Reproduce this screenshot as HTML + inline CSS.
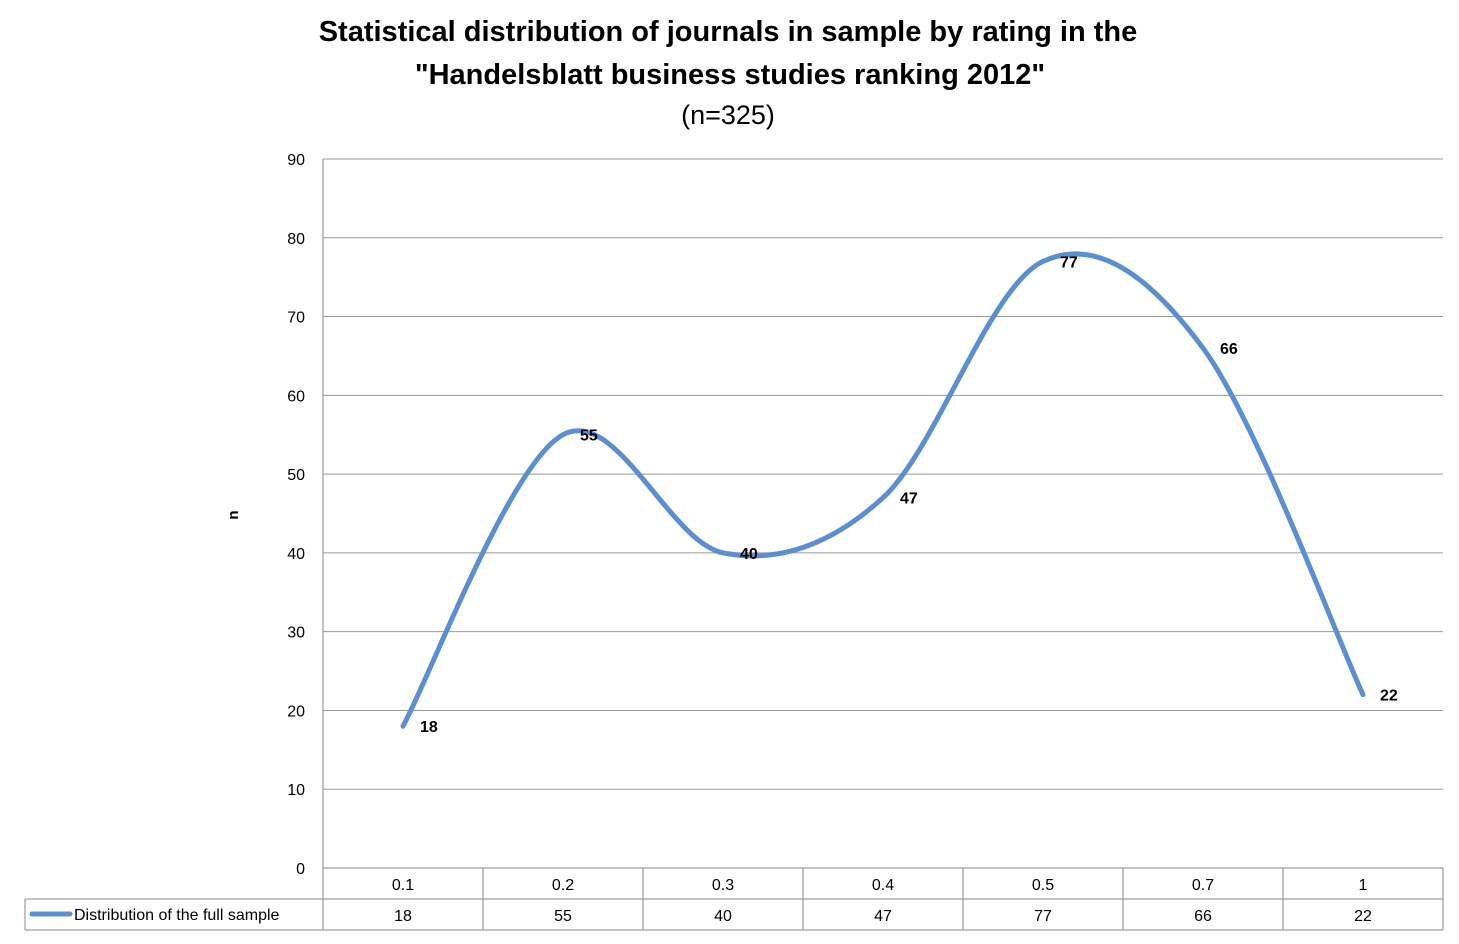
<!DOCTYPE html>
<html><head><meta charset="utf-8"><style>
body{margin:0;background:#fff;}
svg text{font-family:"Liberation Sans",sans-serif;}
</style></head><body>
<svg width="1459" height="939" xmlns="http://www.w3.org/2000/svg">
<text x="728" y="41" text-anchor="middle" font-size="29" font-weight="bold" fill="#000">Statistical distribution of journals in sample by rating in the</text>
<text x="730" y="84" text-anchor="middle" font-size="29" font-weight="bold" fill="#000">"Handelsblatt business studies ranking 2012"</text>
<text x="728" y="124" text-anchor="middle" font-size="27" fill="#000">(n=325)</text>
<text transform="translate(238,515) rotate(-90)" text-anchor="middle" font-size="15" font-weight="bold">n</text>
<g id="grid"></g><g id="table"></g><g id="series"></g>
</svg>
<script>
const categories=["0.1","0.2","0.3","0.4","0.5","0.7","1"];
const values=[18,55,40,47,77,66,22];
const yTicks=[0,10,20,30,40,50,60,70,80,90];
const NS="http://www.w3.org/2000/svg";
const L=323,R=1443,T=159,B=868,yMax=90;
const cw=(R-L)/categories.length;
const xS=i=>L+cw*(i+0.5);
const yS=v=>B-(v/yMax)*(B-T);
function mk(tag,attrs,parent,txt){const e=document.createElementNS(NS,tag);for(const k in attrs)e.setAttribute(k,attrs[k]);if(txt!==undefined)e.textContent=txt;parent.appendChild(e);return e;}
const grid=document.getElementById('grid'),table=document.getElementById('table'),series=document.getElementById('series');
yTicks.forEach(t=>{
  const y=yS(t);
  const g=mk('line',{x1:L,x2:R,y1:y,y2:y,stroke:t===0?'#888':'#999','stroke-width':1},grid);
  
  
  const lb=mk('text',{x:305,y:y+6,'text-anchor':'end','font-size':16,fill:'#000'},grid,String(t));
  
  
});
const ax=mk('line',{x1:L,x2:L,y1:T,y2:930,stroke:'#888'},grid);


// table
const r1=899,r2=930;
mk('line',{x1:25,x2:R,y1:r1,y2:r1,stroke:'#888'},table);
mk('line',{x1:25,x2:R,y1:r2,y2:r2,stroke:'#888'},table);
mk('line',{x1:25,x2:25,y1:r1,y2:r2,stroke:'#888'},table);
for(let i=0;i<=categories.length;i++){const x=L+cw*i;mk('line',{x1:x,x2:x,y1:B,y2:r2,stroke:'#888'},table);}
categories.forEach((c,i)=>{
  const a=mk('text',{x:xS(i),y:890,'text-anchor':'middle','font-size':16},table,c);
  
  
  const b=mk('text',{x:xS(i),y:921,'text-anchor':'middle','font-size':16},table,String(values[i]));
  
  
});
const lk=mk('line',{x1:32,x2:70,y1:914,y2:914,stroke:'#5b8fd1','stroke-width':5,'stroke-linecap':'round'},table);


const lt=mk('text',{x:74,y:920,'font-size':16},table,'Distribution of the full sample');


// smooth line
const pts=values.map((v,i)=>[xS(i),yS(v)]);
let d='M'+pts[0][0]+','+pts[0][1];
for(let i=0;i<pts.length-1;i++){
  const p0=pts[Math.max(0,i-1)],p1=pts[i],p2=pts[i+1],p3=pts[Math.min(pts.length-1,i+2)];
  const c1=[p1[0]+(p2[0]-p0[0])/6,p1[1]+(p2[1]-p0[1])/6];
  const c2=[p2[0]-(p3[0]-p1[0])/6,p2[1]-(p3[1]-p1[1])/6];
  d+=` C${c1[0]},${c1[1]} ${c2[0]},${c2[1]} ${p2[0]},${p2[1]}`;
}
const path=mk('path',{d:d,fill:'none',stroke:'#5b8fd1','stroke-width':5,'stroke-linecap':'round'},series);


pts.forEach((p,i)=>{
  const t=mk('text',{x:p[0]+17,y:p[1]+6,'font-size':16,'font-weight':'bold'},series,String(values[i]));
  
  
});
</script>
</body></html>
